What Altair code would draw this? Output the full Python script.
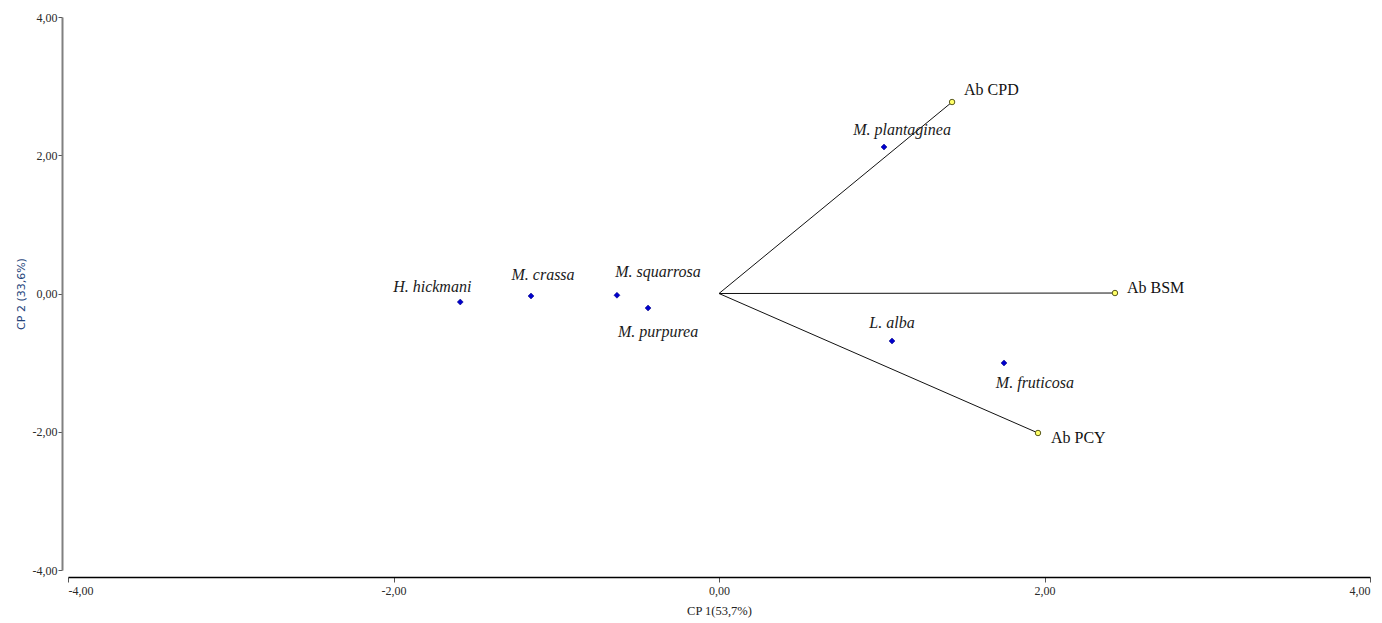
import altair as alt
import pandas as pd

# Species scores (blue diamonds)
species = ["H. hickmani", "M. crassa", "M. squarrosa", "M. purpurea",
           "M. plantaginea", "L. alba", "M. fruticosa"]
species_x = [-1.59, -1.155, -0.627, -0.436, 1.014, 1.063, 1.751]
species_y = [-0.123, -0.036, -0.025, -0.21, 2.119, -0.687, -1.005]

# Variable loadings (vectors)
variables = ["Ab CPD", "Ab BSM", "Ab PCY"]
var_x = [1.432, 2.433, 1.96]
var_y = [2.77, 0.007, -2.018]

ticks = [-4, -2, 0, 2, 4]

sp = pd.DataFrame({"name": species, "x": species_x, "y": species_y})
vr = pd.DataFrame({"name": variables, "x": var_x, "y": var_y})
vr["x0"] = 0.0
vr["y0"] = 0.0

label_expr = "replace(replace(format(datum.value, '.2f'), '.', ','), '\u2212', '-')"

xscale = alt.Scale(domain=[-4, 4], nice=False, zero=False)
yscale = alt.Scale(domain=[-4, 4], nice=False, zero=False)

xaxis = alt.Axis(values=ticks, labelExpr=label_expr, grid=False, offset=7,
                 domainColor="#000000", domainWidth=1.5, tickColor="#555555",
                 tickSize=5, labelFont="Liberation Serif", labelFontSize=12,
                 labelColor="#2a2a2a", labelPadding=3, title="CP 1(53,7%)",
                 titleFont="Liberation Serif", titleFontSize=12.5, titleFontWeight="normal",
                 titleColor="#222222", titlePadding=8)
yaxis = alt.Axis(values=ticks, labelExpr=label_expr, grid=False, offset=6,
                 domainColor="#808080", domainWidth=2, tickColor="#555555",
                 tickSize=4, labelFont="Liberation Serif", labelFontSize=12,
                 labelColor="#2a2a2a", labelPadding=1, title="CP 2 (33,6%)",
                 titleFont="DejaVu Sans", titleFontSize=11, titleFontWeight="normal",
                 titleColor="#23437a", titlePadding=6)

base_sp = alt.Chart(sp)
base_vr = alt.Chart(vr)

lines = base_vr.mark_rule(color="#111111", strokeWidth=1).encode(
    x=alt.X("x0:Q", scale=xscale, axis=xaxis),
    y=alt.Y("y0:Q", scale=yscale, axis=yaxis),
    x2="x:Q", y2="y:Q",
)

sp_points = base_sp.mark_point(shape="diamond", filled=True, size=36,
                               color="#0000cc", stroke="#00007a", strokeWidth=0.5,
                               opacity=1).encode(
    x=alt.X("x:Q", scale=xscale), y=alt.Y("y:Q", scale=yscale))

vr_points = base_vr.mark_point(shape="circle", filled=True, size=30, fill="#ffff66",
                               stroke="#5a5a20", strokeWidth=1, opacity=1).encode(
    x=alt.X("x:Q", scale=xscale), y=alt.Y("y:Q", scale=yscale))

sp_offsets = {
    "H. hickmani": (-28, -15),
    "M. crassa": (12, -21),
    "M. squarrosa": (41, -23),
    "M. purpurea": (10, 24),
    "M. plantaginea": (18, -17),
    "L. alba": (0, -18),
    "M. fruticosa": (31, 20),
}
vr_offsets = {
    "Ab CPD": (12, -12),
    "Ab BSM": (12, -5),
    "Ab PCY": (13, 5),
}

layers = [lines, sp_points, vr_points]
for name, (dx, dy) in sp_offsets.items():
    layers.append(
        base_sp.transform_filter(alt.datum.name == name).mark_text(
            dx=dx, dy=dy, align="center", baseline="middle",
            font="Liberation Serif", fontSize=16, fontStyle="italic", color="#1a1a1a"
        ).encode(x=alt.X("x:Q", scale=xscale), y=alt.Y("y:Q", scale=yscale), text="name:N")
    )
for name, (dx, dy) in vr_offsets.items():
    layers.append(
        base_vr.transform_filter(alt.datum.name == name).mark_text(
            dx=dx, dy=dy, align="left", baseline="middle",
            font="Liberation Serif", fontSize=16, color="#111111"
        ).encode(x=alt.X("x:Q", scale=xscale), y=alt.Y("y:Q", scale=yscale), text="name:N")
    )

chart = alt.layer(*layers).properties(
    width=1302, height=553,
    autosize=alt.AutoSizeParams(type="none"),
    padding={"left": 60, "top": 9, "right": 4, "bottom": 50},
    background="white",
).configure_view(stroke=None)

chart.save("out.html", embed_options={"renderer": "svg", "actions": False})
